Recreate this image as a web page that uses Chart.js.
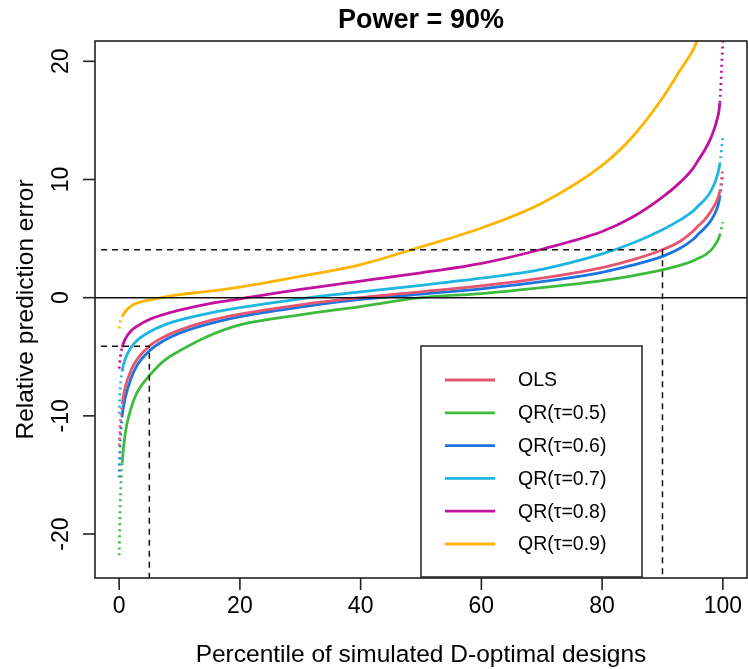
<!DOCTYPE html>
<html>
<head>
<meta charset="utf-8">
<script src="https://cdn.jsdelivr.net/npm/chart.js@4.4.0/dist/chart.umd.min.js"></script>
<style>
  html, body { margin: 0; padding: 0; background: #fff; }
</style>
</head>
<body>
<canvas id="chart" width="748" height="669"></canvas>
<script>
// --- Data: sorted relative prediction errors by percentile ---
const percentiles = [0, 0.2, 0.5, 1, 2, 3, 5, 7.5, 10, 15, 20, 30, 40, 50, 60, 70, 80, 85, 90, 93, 95, 96, 97, 98, 99, 99.5, 100];

const olsErr = [-12.5, -10.5, -9.0, -7.6, -6.1, -5.2, -4.1, -3.3, -2.75, -1.95, -1.4, -0.6, 0.0, 0.5, 1.0, 1.65, 2.55, 3.2, 4.06, 4.8, 5.6, 6.1, 6.6, 7.3, 8.2, 9.0, 11.0];
const qr50Err = [-21.8, -17.0, -14.0, -11.5, -9.3, -8.0, -6.6, -5.3, -4.5, -3.2, -2.3, -1.45, -0.75, 0.0, 0.35, 0.85, 1.45, 1.85, 2.35, 2.75, 3.1, 3.35, 3.6, 4.0, 4.7, 5.3, 6.4];
const qr60Err = [-15.2, -12.0, -10.0, -8.5, -6.8, -5.7, -4.5, -3.6, -3.0, -2.2, -1.6, -0.8, -0.15, 0.3, 0.75, 1.35, 2.15, 2.75, 3.5, 4.2, 4.9, 5.4, 5.9, 6.5, 7.5, 8.5, 10.5];
const qr70Err = [-9.8, -7.5, -6.2, -5.2, -4.2, -3.6, -2.9, -2.3, -1.9, -1.3, -0.85, -0.1, 0.5, 1.05, 1.65, 2.4, 3.7, 4.6, 5.75, 6.6, 7.3, 7.8, 8.3, 9.0, 10.2, 11.3, 13.6];
const qr80Err = [-6.0, -5.0, -4.2, -3.5, -2.8, -2.4, -1.85, -1.4, -1.05, -0.5, -0.1, 0.7, 1.4, 2.1, 2.9, 4.1, 5.6, 6.8, 8.5, 9.8, 10.9, 11.7, 12.5, 13.5, 15.0, 16.5, 21.7];
const qr90Err = [-2.6, -2.0, -1.6, -1.2, -0.7, -0.45, -0.2, 0.05, 0.25, 0.55, 0.9, 1.8, 2.8, 4.3, 5.9, 8.0, 11.2, 13.6, 16.9, 19.3, 20.9, 22.0];

const seriesLabels = ["OLS", "QR(\u03c4=0.5)", "QR(\u03c4=0.6)", "QR(\u03c4=0.7)", "QR(\u03c4=0.8)", "QR(\u03c4=0.9)"];
const seriesColors = ["#E5566E", "#3DBB3D", "#1C74E0", "#1DB6E0", "#C1119F", "#FFB400"];
const seriesValues = [olsErr, qr50Err, qr60Err, qr70Err, qr80Err, qr90Err];

// --- Axis ticks and reference lines ---
const xTicks = [0, 20, 40, 60, 80, 100];
const yTicks = [-20, -10, 0, 10, 20];
const X_MIN = -4, X_MAX = 104;
const Y_MIN = -23.72, Y_MAX = 21.72;
const REF_START = -3;
const REF_UPPER = { pct: 90, err: 4.06 };
const REF_LOWER = { pct: 5, err: -4.1 };

const FONT = "'Liberation Sans', Arial, sans-serif";

function toPoints(values) {
  return values.map((v, i) => ({ x: percentiles[i], y: v }));
}

// tails are sparse in the simulation, so draw them dotted
function tailDash(ctx) {
  const a = ctx.p0.parsed.x, b = ctx.p1.parsed.x;
  if (b <= 0.5 || a >= 99.5) return [2, 4];
  return undefined;
}

const datasets = seriesValues.map((vals, i) => ({
  label: seriesLabels[i],
  data: toPoints(vals),
  borderColor: seriesColors[i],
  borderWidth: 2.8,
  pointRadius: 0,
  fill: false,
  cubicInterpolationMode: "monotone",
  clip: 0,
  segment: { borderDash: tailDash }
}));

// --- Frame, axes, reference lines and legend ---
const rDecor = {
  id: "rDecor",
  afterDatasetsDraw(chart) {
    const { ctx, chartArea: a, scales } = chart;
    const xs = scales.x, ys = scales.y;
    ctx.save();

    // zero line
    ctx.strokeStyle = "#111";
    ctx.lineWidth = 1.6;
    ctx.beginPath();
    ctx.moveTo(a.left, ys.getPixelForValue(0));
    ctx.lineTo(a.right, ys.getPixelForValue(0));
    ctx.stroke();

    // dashed reference lines
    ctx.setLineDash([6, 5]);
    ctx.lineWidth = 1.5;
    [REF_UPPER, REF_LOWER].forEach(r => {
      const py = ys.getPixelForValue(r.err);
      const px = xs.getPixelForValue(r.pct);
      ctx.beginPath();
      ctx.moveTo(xs.getPixelForValue(REF_START), py);
      ctx.lineTo(px, py);
      ctx.lineTo(px, a.bottom);
      ctx.stroke();
    });
    ctx.setLineDash([]);

    // box
    ctx.strokeStyle = "#222";
    ctx.lineWidth = 1.6;
    ctx.strokeRect(a.left, a.top, a.right - a.left, a.bottom - a.top);

    // x axis
    ctx.fillStyle = "#000";
    ctx.font = "23px " + FONT;
    ctx.textAlign = "center";
    ctx.textBaseline = "middle";
    xTicks.forEach(v => {
      const px = xs.getPixelForValue(v);
      ctx.beginPath();
      ctx.moveTo(px, a.bottom);
      ctx.lineTo(px, a.bottom + 12);
      ctx.stroke();
      ctx.fillText(String(v), px, a.bottom + 29);
    });

    // y axis, labels parallel to the axis
    yTicks.forEach(v => {
      const py = ys.getPixelForValue(v);
      ctx.beginPath();
      ctx.moveTo(a.left, py);
      ctx.lineTo(a.left - 12, py);
      ctx.stroke();
      ctx.save();
      ctx.translate(a.left - 33, py);
      ctx.rotate(-Math.PI / 2);
      ctx.fillText(String(v), 0, 0);
      ctx.restore();
    });

    // titles
    ctx.font = "24.5px " + FONT;
    ctx.fillText("Percentile of simulated D-optimal designs", (a.left + a.right) / 2, 655);
    ctx.save();
    ctx.translate(26, (a.top + a.bottom) / 2);
    ctx.rotate(-Math.PI / 2);
    ctx.fillText("Relative prediction error", 0, 0);
    ctx.restore();
    ctx.font = "bold 27px " + FONT;
    ctx.fillText("Power = 90%", (a.left + a.right) / 2, 21);

    // legend
    const lx = 421, ly = 346, lw = 221, lh = 231, rowGap = 32.8;
    ctx.fillStyle = "#fff";
    ctx.fillRect(lx, ly, lw, lh);
    ctx.strokeStyle = "#222";
    ctx.lineWidth = 1.5;
    ctx.strokeRect(lx, ly, lw, lh);
    ctx.font = "19.5px " + FONT;
    ctx.textAlign = "left";
    seriesLabels.forEach((lab, i) => {
      const ry = ly + 34 + i * rowGap;
      ctx.strokeStyle = seriesColors[i];
      ctx.lineWidth = 2.8;
      ctx.beginPath();
      ctx.moveTo(lx + 24, ry);
      ctx.lineTo(lx + 74, ry);
      ctx.stroke();
      ctx.fillStyle = "#000";
      ctx.fillText(lab, lx + 97, ry + 1);
    });

    ctx.restore();
  }
};

new Chart(document.getElementById("chart"), {
  type: "line",
  data: { datasets },
  options: {
    responsive: false,
    animation: false,
    layout: { padding: { left: 95, top: 41, right: 1, bottom: 91 } },
    scales: {
      x: { type: "linear", min: X_MIN, max: X_MAX, display: false },
      y: { type: "linear", min: Y_MIN, max: Y_MAX, display: false }
    },
    plugins: {
      legend: { display: false },
      tooltip: { enabled: false }
    }
  },
  plugins: [rDecor]
});
</script>
</body>
</html>
